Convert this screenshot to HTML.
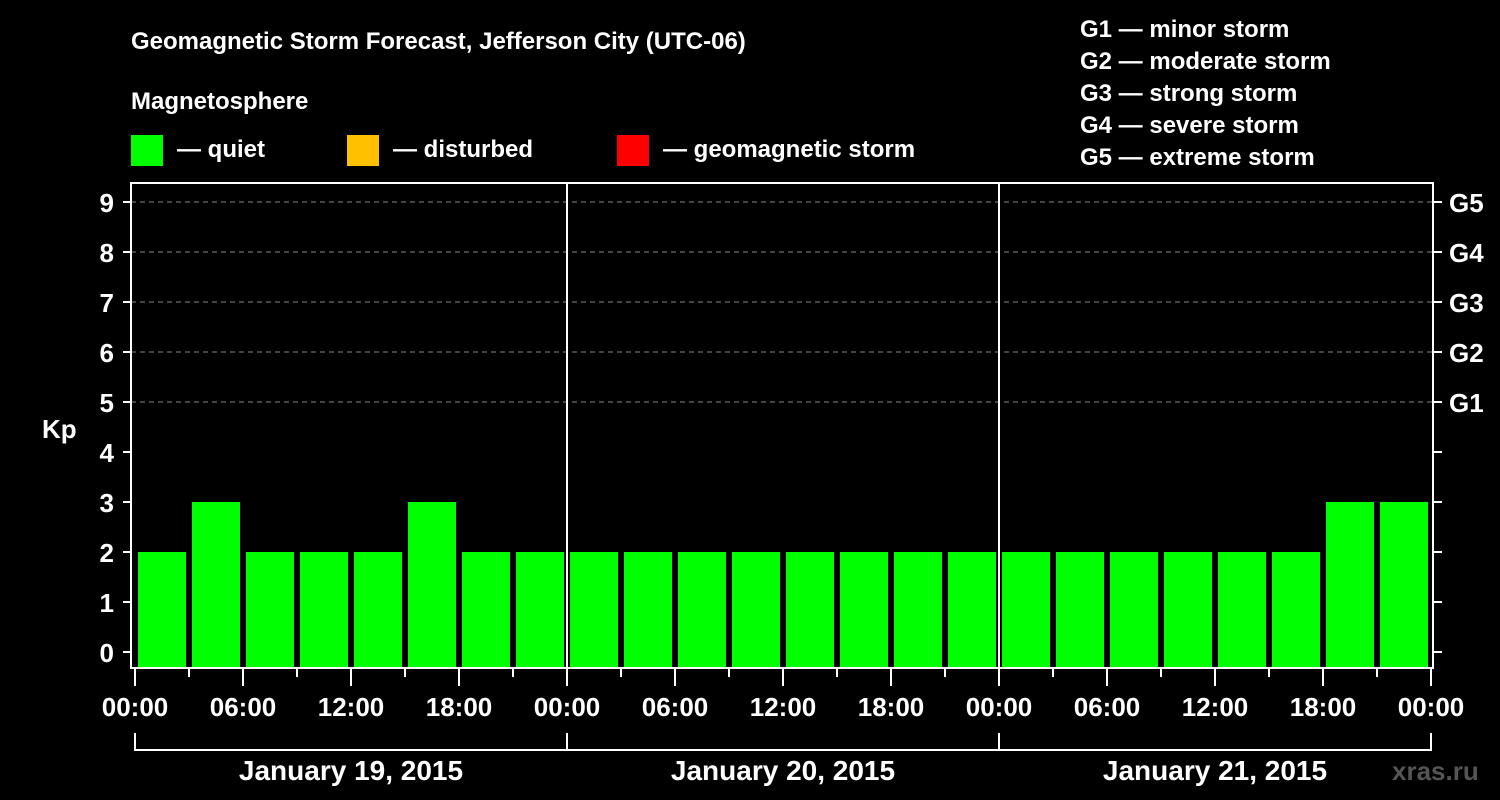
<!DOCTYPE html>
<html><head><meta charset="utf-8">
<style>
html,body{margin:0;padding:0;background:#000;}
svg{display:block;font-family:"Liberation Sans",Arial,sans-serif;font-weight:bold;}
</style></head>
<body>
<svg id="chart" width="1500" height="800" viewBox="0 0 1500 800">
<rect width="1500" height="800" fill="#000"/>
<text x="131" y="49" fill="#fff" font-size="24">Geomagnetic Storm Forecast, Jefferson City (UTC-06)</text>
<text x="131" y="109" fill="#fff" font-size="24">Magnetosphere</text>
<rect x="131" y="135" width="32" height="31" fill="#00ff00"/>
<text x="177" y="157" fill="#fff" font-size="24">— quiet</text>
<rect x="347" y="135" width="32" height="31" fill="#ffc000"/>
<text x="393" y="157" fill="#fff" font-size="24">— disturbed</text>
<rect x="617" y="135" width="32" height="31" fill="#ff0000"/>
<text x="663" y="157" fill="#fff" font-size="24">— geomagnetic storm</text>
<g fill="#fff" font-size="24">
<text x="1080" y="37">G1 — minor storm</text>
<text x="1080" y="69">G2 — moderate storm</text>
<text x="1080" y="101">G3 — strong storm</text>
<text x="1080" y="133">G4 — severe storm</text>
<text x="1080" y="165">G5 — extreme storm</text>
</g>
<text x="42" y="438" fill="#fff" font-size="26">Kp</text>
<text x="1392" y="780" fill="#555" font-size="26">xras.ru</text>
<g id="grid"></g><g id="bars"></g><g id="axes"></g>
</svg>
<script>
const categories = ["00:00","03:00","06:00","09:00","12:00","15:00","18:00","21:00","00:00","03:00","06:00","09:00","12:00","15:00","18:00","21:00","00:00","03:00","06:00","09:00","12:00","15:00","18:00","21:00"];
const kpValues = [2,3,2,2,2,3,2,2, 2,2,2,2,2,2,2,2, 2,2,2,2,2,2,3,3];
const yTicks = [0,1,2,3,4,5,6,7,8,9];
const gLabels = ["G1","G2","G3","G4","G5"];
const gLevels = [5,6,7,8,9];
const xTickLabels = ["00:00","06:00","12:00","18:00","00:00","06:00","12:00","18:00","00:00","06:00","12:00","18:00","00:00"];
const dayLabels = ["January 19, 2015","January 20, 2015","January 21, 2015"];

const NS="http://www.w3.org/2000/svg";
const L=131,R=1433,T=183,B=668,X0=135,slot=54;
const y=v=>652-50*v;
const x=i=>X0+slot*i;
function mk(tag,attrs,parent,text){const e=document.createElementNS(NS,tag);for(const k in attrs)e.setAttribute(k,attrs[k]);if(text!==undefined)e.textContent=text;parent.appendChild(e);return e;}
const grid=document.getElementById('grid'),bars=document.getElementById('bars'),axes=document.getElementById('axes');
gLevels.forEach((g,i)=>{
 const ln=mk('line',{x1:L,x2:R,y1:y(g),y2:y(g),stroke:'#888','stroke-dasharray':'5,4','stroke-width':1},grid);
 
 
 const t=mk('text',{x:1449,y:y(g)+10,fill:'#fff','font-size':26},axes,gLabels[i]);
 
 
});
kpValues.forEach((v,i)=>{
 const c=v>=5?'#ff0000':(v>=4?'#ffc000':'#00ff00');
 const b=mk('rect',{x:x(i)+3,y:y(v),width:48,height:B-y(v),fill:c},bars);
 
 
});
// frame
const fr=mk('path',{d:`M${L} ${T}H${R}V${B}H${L}Z`,fill:'none',stroke:'#fff','stroke-width':2},axes);


for(let d=1;d<3;d++){const s=mk('line',{x1:x(8*d),x2:x(8*d),y1:T,y2:B,stroke:'#fff','stroke-width':2},axes);
 
 }
yTicks.forEach(v=>{
 mk('line',{x1:123,x2:L,y1:y(v),y2:y(v),stroke:'#fff','stroke-width':2},axes);
 mk('line',{x1:R,x2:1442,y1:y(v),y2:y(v),stroke:'#fff','stroke-width':2},axes);
 const t=mk('text',{x:114,y:y(v)+10,fill:'#fff','font-size':26,'text-anchor':'end'},axes,String(v));
 
 
});
for(let i=0;i<=categories.length;i++){
 const long=i%2===0;
 mk('line',{x1:x(i),x2:x(i),y1:B,y2:long?686:677,stroke:'#fff','stroke-width':2},axes);
}
xTickLabels.forEach((s,i)=>{
 const t=mk('text',{x:x(2*i),y:716,fill:'#fff','font-size':26,'text-anchor':'middle'},axes,s);
 
 
});
dayLabels.forEach((s,d)=>{
 const x1=x(8*d),x2=x(8*d+8);
 mk('path',{d:`M${x1} 733V750H${x2}V733`,fill:'none',stroke:'#fff','stroke-width':2},axes);
 const t=mk('text',{x:(x1+x2)/2,y:780,fill:'#fff','font-size':28,'text-anchor':'middle'},axes,s);
 
 
});
</script>
</body></html>
